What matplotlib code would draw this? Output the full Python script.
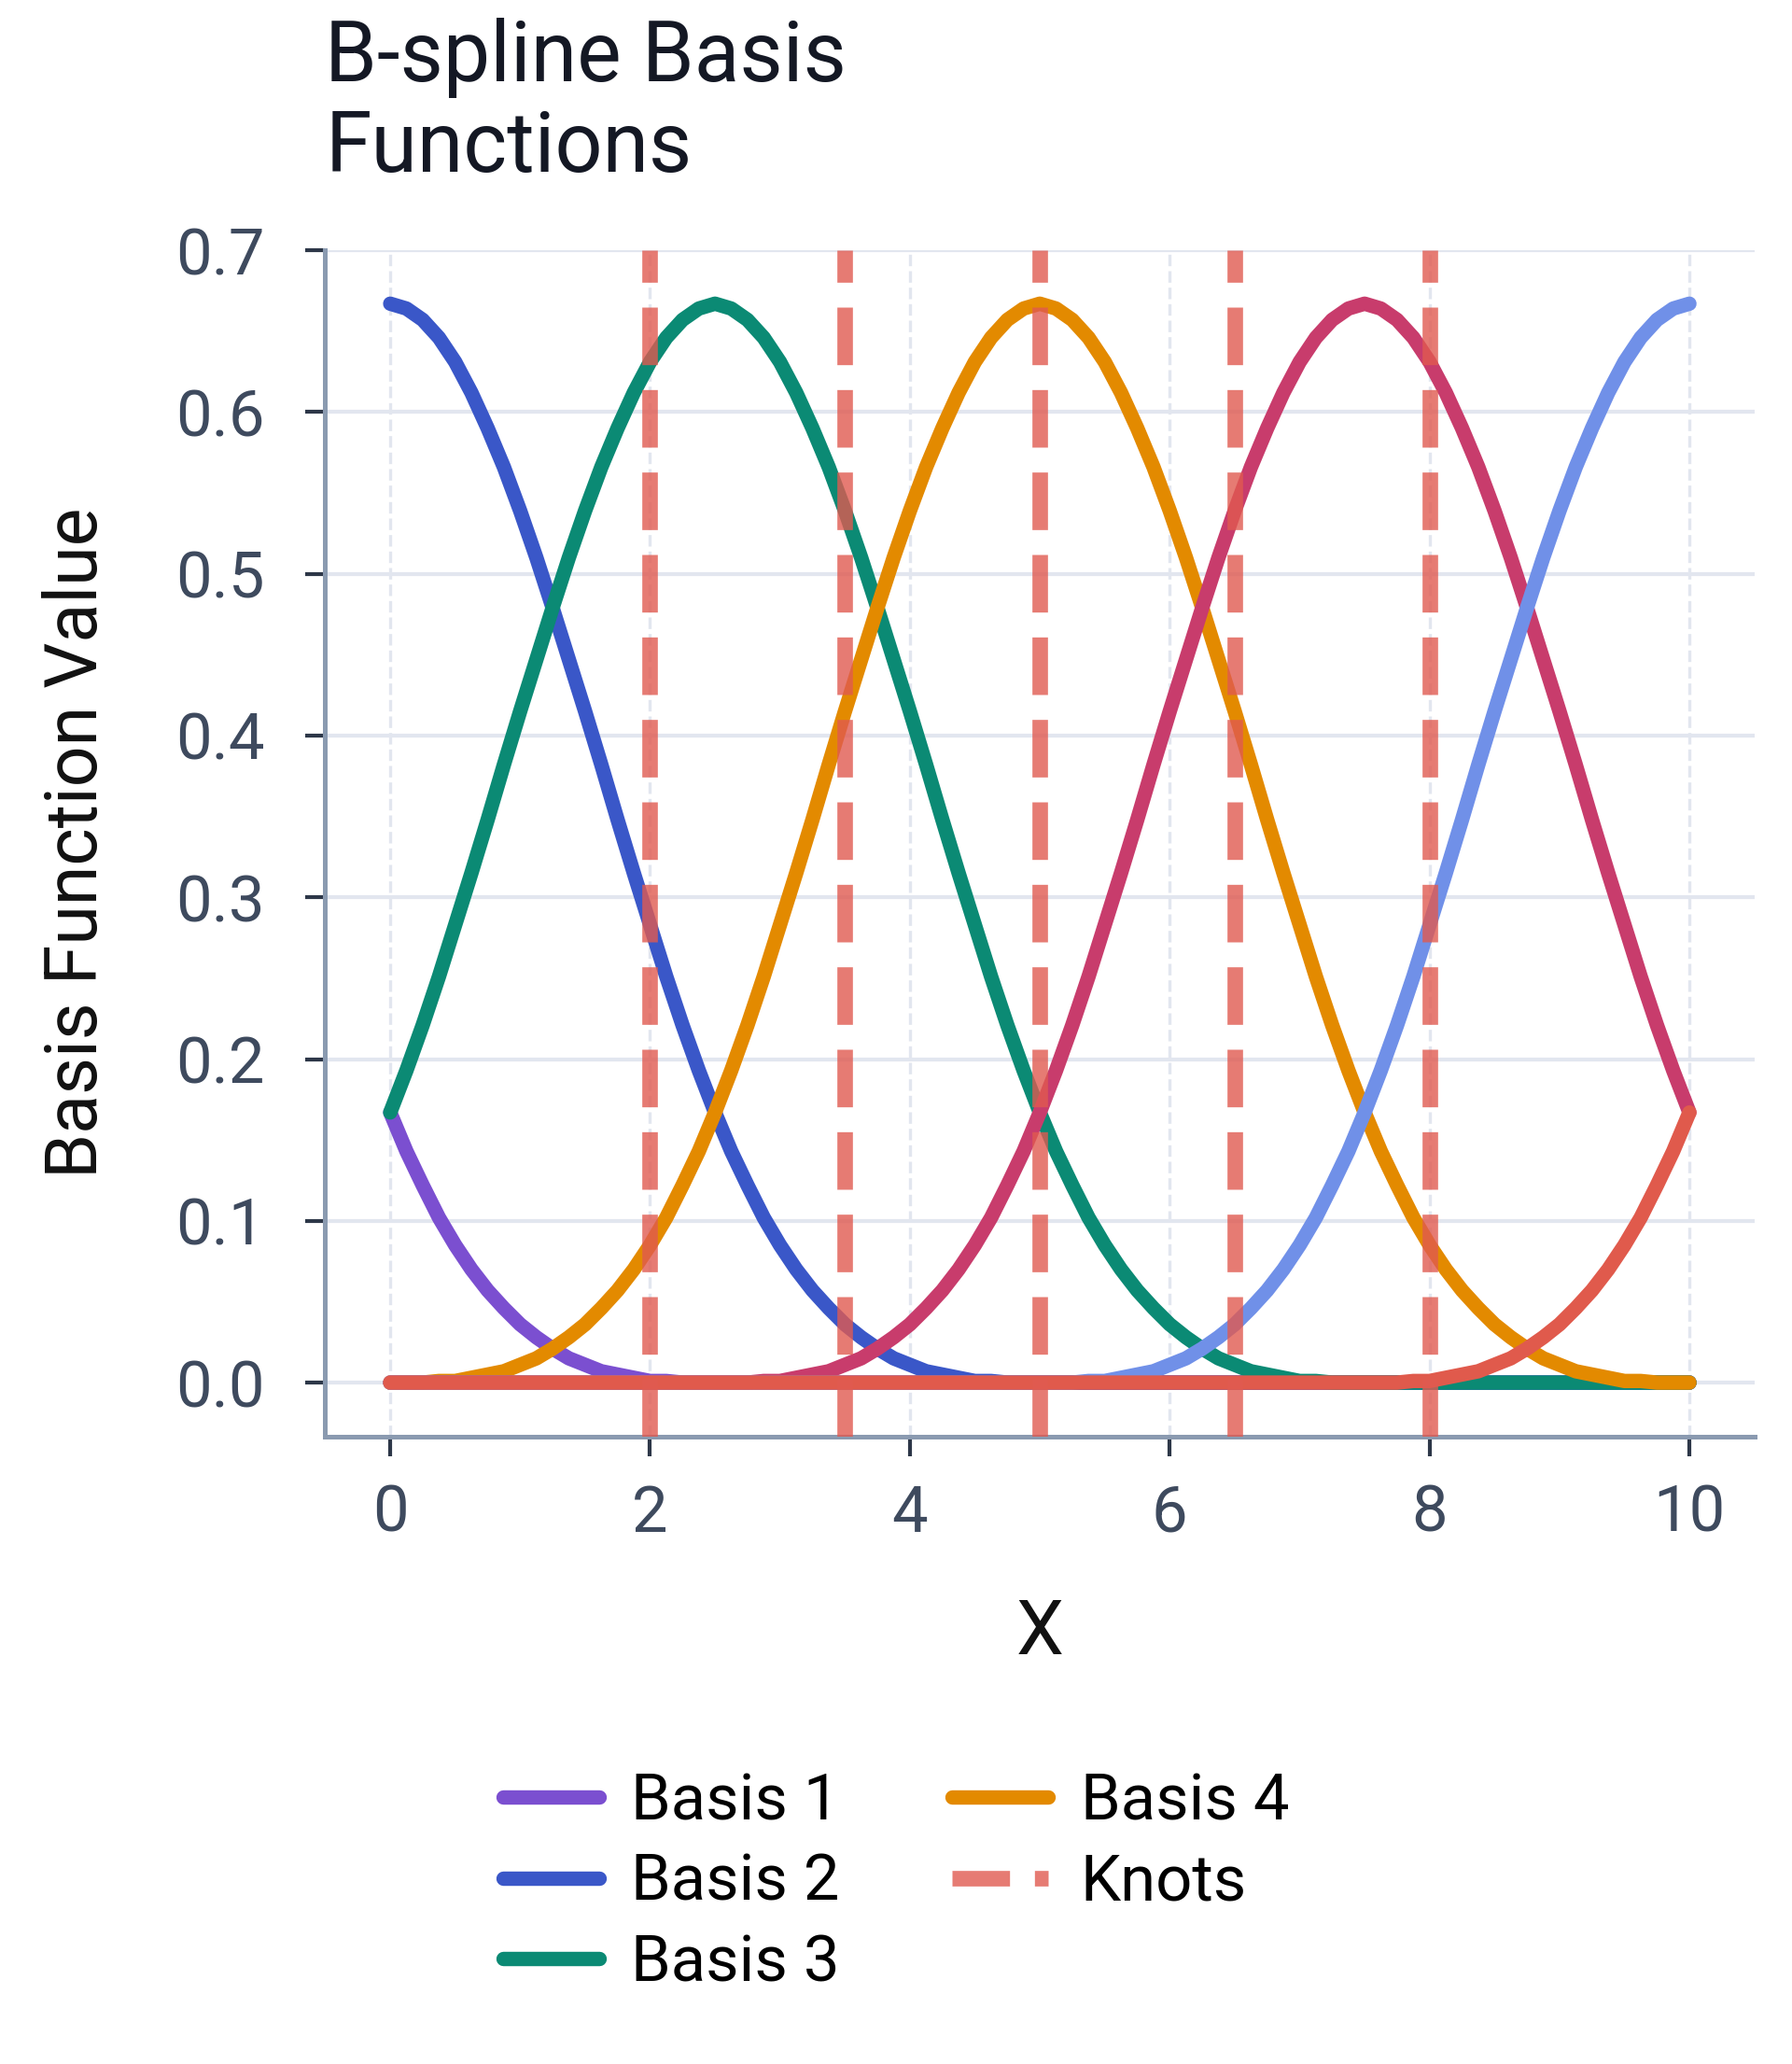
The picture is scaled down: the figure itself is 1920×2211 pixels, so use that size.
import numpy as np
from matplotlib import pyplot as plt


plt.switch_backend('agg')
plt.rcParams['font.family'] = ['Roboto', 'DejaVu Sans']

# sample positions along x (every 0.125)
x_vals = np.linspace(0, 10, 81)

basis_1 = [0.167, 0.143, 0.122, 0.102, 0.085, 0.070, 0.057, 0.046, 0.036, 0.028,
           0.021, 0.015, 0.011, 0.007, 0.005, 0.003, 0.001, 0.001, 0.0, 0.0,
           0.0, 0.0, 0.0, 0.0, 0.0, 0.0, 0.0, 0.0, 0.0, 0.0,
           0.0, 0.0, 0.0, 0.0, 0.0, 0.0, 0.0, 0.0, 0.0, 0.0,
           0.0, 0.0, 0.0, 0.0, 0.0, 0.0, 0.0, 0.0, 0.0, 0.0,
           0.0, 0.0, 0.0, 0.0, 0.0, 0.0, 0.0, 0.0, 0.0, 0.0,
           0.0, 0.0, 0.0, 0.0, 0.0, 0.0, 0.0, 0.0, 0.0, 0.0,
           0.0, 0.0, 0.0, 0.0, 0.0, 0.0, 0.0, 0.0, 0.0, 0.0,
           0.0]
basis_2 = [0.667, 0.664, 0.657, 0.646, 0.631, 0.612, 0.590, 0.566, 0.539, 0.510,
           0.479, 0.447, 0.415, 0.382, 0.348, 0.315, 0.283, 0.251, 0.221, 0.193,
           0.167, 0.143, 0.122, 0.102, 0.085, 0.070, 0.057, 0.046, 0.036, 0.028,
           0.021, 0.015, 0.011, 0.007, 0.005, 0.003, 0.001, 0.001, 0.0, 0.0,
           0.0, 0.0, 0.0, 0.0, 0.0, 0.0, 0.0, 0.0, 0.0, 0.0,
           0.0, 0.0, 0.0, 0.0, 0.0, 0.0, 0.0, 0.0, 0.0, 0.0,
           0.0, 0.0, 0.0, 0.0, 0.0, 0.0, 0.0, 0.0, 0.0, 0.0,
           0.0, 0.0, 0.0, 0.0, 0.0, 0.0, 0.0, 0.0, 0.0, 0.0,
           0.0]
basis_3 = [0.167, 0.193, 0.221, 0.251, 0.283, 0.315, 0.348, 0.382, 0.415, 0.447,
           0.479, 0.510, 0.539, 0.566, 0.590, 0.612, 0.631, 0.646, 0.657, 0.664,
           0.667, 0.664, 0.657, 0.646, 0.631, 0.612, 0.590, 0.566, 0.539, 0.510,
           0.479, 0.447, 0.415, 0.382, 0.348, 0.315, 0.283, 0.251, 0.221, 0.193,
           0.167, 0.143, 0.122, 0.102, 0.085, 0.070, 0.057, 0.046, 0.036, 0.028,
           0.021, 0.015, 0.011, 0.007, 0.005, 0.003, 0.001, 0.001, 0.0, 0.0,
           0.0, 0.0, 0.0, 0.0, 0.0, 0.0, 0.0, 0.0, 0.0, 0.0,
           0.0, 0.0, 0.0, 0.0, 0.0, 0.0, 0.0, 0.0, 0.0, 0.0,
           0.0]
basis_4 = [0.0, 0.0, 0.0, 0.001, 0.001, 0.003, 0.005, 0.007, 0.011, 0.015,
           0.021, 0.028, 0.036, 0.046, 0.057, 0.070, 0.085, 0.102, 0.122, 0.143,
           0.167, 0.193, 0.221, 0.251, 0.283, 0.315, 0.348, 0.382, 0.415, 0.447,
           0.479, 0.510, 0.539, 0.566, 0.590, 0.612, 0.631, 0.646, 0.657, 0.664,
           0.667, 0.664, 0.657, 0.646, 0.631, 0.612, 0.590, 0.566, 0.539, 0.510,
           0.479, 0.447, 0.415, 0.382, 0.348, 0.315, 0.283, 0.251, 0.221, 0.193,
           0.167, 0.143, 0.122, 0.102, 0.085, 0.070, 0.057, 0.046, 0.036, 0.028,
           0.021, 0.015, 0.011, 0.007, 0.005, 0.003, 0.001, 0.001, 0.0, 0.0,
           0.0]
basis_5 = [0.0, 0.0, 0.0, 0.0, 0.0, 0.0, 0.0, 0.0, 0.0, 0.0,
           0.0, 0.0, 0.0, 0.0, 0.0, 0.0, 0.0, 0.0, 0.0, 0.0,
           0.0, 0.0, 0.0, 0.001, 0.001, 0.003, 0.005, 0.007, 0.011, 0.015,
           0.021, 0.028, 0.036, 0.046, 0.057, 0.070, 0.085, 0.102, 0.122, 0.143,
           0.167, 0.193, 0.221, 0.251, 0.283, 0.315, 0.348, 0.382, 0.415, 0.447,
           0.479, 0.510, 0.539, 0.566, 0.590, 0.612, 0.631, 0.646, 0.657, 0.664,
           0.667, 0.664, 0.657, 0.646, 0.631, 0.612, 0.590, 0.566, 0.539, 0.510,
           0.479, 0.447, 0.415, 0.382, 0.348, 0.315, 0.283, 0.251, 0.221, 0.193,
           0.167]
basis_6 = [0.0, 0.0, 0.0, 0.0, 0.0, 0.0, 0.0, 0.0, 0.0, 0.0,
           0.0, 0.0, 0.0, 0.0, 0.0, 0.0, 0.0, 0.0, 0.0, 0.0,
           0.0, 0.0, 0.0, 0.0, 0.0, 0.0, 0.0, 0.0, 0.0, 0.0,
           0.0, 0.0, 0.0, 0.0, 0.0, 0.0, 0.0, 0.0, 0.0, 0.0,
           0.0, 0.0, 0.0, 0.001, 0.001, 0.003, 0.005, 0.007, 0.011, 0.015,
           0.021, 0.028, 0.036, 0.046, 0.057, 0.070, 0.085, 0.102, 0.122, 0.143,
           0.167, 0.193, 0.221, 0.251, 0.283, 0.315, 0.348, 0.382, 0.415, 0.447,
           0.479, 0.510, 0.539, 0.566, 0.590, 0.612, 0.631, 0.646, 0.657, 0.664,
           0.667]
basis_7 = [0.0, 0.0, 0.0, 0.0, 0.0, 0.0, 0.0, 0.0, 0.0, 0.0,
           0.0, 0.0, 0.0, 0.0, 0.0, 0.0, 0.0, 0.0, 0.0, 0.0,
           0.0, 0.0, 0.0, 0.0, 0.0, 0.0, 0.0, 0.0, 0.0, 0.0,
           0.0, 0.0, 0.0, 0.0, 0.0, 0.0, 0.0, 0.0, 0.0, 0.0,
           0.0, 0.0, 0.0, 0.0, 0.0, 0.0, 0.0, 0.0, 0.0, 0.0,
           0.0, 0.0, 0.0, 0.0, 0.0, 0.0, 0.0, 0.0, 0.0, 0.0,
           0.0, 0.0, 0.0, 0.001, 0.001, 0.003, 0.005, 0.007, 0.011, 0.015,
           0.021, 0.028, 0.036, 0.046, 0.057, 0.070, 0.085, 0.102, 0.122, 0.143,
           0.167]

basis_series = [basis_1, basis_2, basis_3, basis_4, basis_5, basis_6, basis_7]
basis_labels = ['Basis 1', 'Basis 2', 'Basis 3', 'Basis 4', None, None, None]
basis_colors = ['#7b4fd0', '#3a57c8', '#0b8a74', '#e38a00',
                '#c83c6c', '#7090e8', '#e05a4c']

knots = [2.0, 3.5, 5.0, 6.5, 8.0]

fig = plt.figure(figsize=(6.4, 7.37), dpi=300)
ax = fig.add_axes([0.1815, 0.304, 0.7975, 0.575])

for values, label, color in zip(basis_series, basis_labels, basis_colors):
    ax.plot(x_vals, values, color=color, lw=3.7, solid_capstyle='round',
            label=label if label else '_nolegend_', zorder=3)

for i, k in enumerate(knots):
    ax.axvline(k, color='#e05a50', alpha=0.8, lw=4, ls='--', zorder=4,
               label='Knots' if i == 0 else '_nolegend_')

ax.set_xticks([0, 2, 4, 6, 8, 10])
ax.set_yticks([0.0, 0.1, 0.2, 0.3, 0.4, 0.5, 0.6, 0.7])
ax.set_yticklabels(['0.0', '0.1', '0.2', '0.3', '0.4', '0.5', '0.6', '0.7'])

ax.set_axisbelow(True)
ax.yaxis.grid(True, color='#e2e6ef', lw=1.0, ls='-')
ax.xaxis.grid(True, color='#e2e6ef', lw=0.8, ls='--')

for side in ['top', 'right']:
    ax.spines[side].set_visible(False)
for side in ['left', 'bottom']:
    ax.spines[side].set_color('#8a9ab0')
    ax.spines[side].set_linewidth(1.2)

ax.tick_params(axis='both', length=5, width=1.0, color='#2d3748',
               labelsize=16.5, labelcolor='#3e4a5e')
ax.tick_params(axis='x', pad=7)
ax.tick_params(axis='y', pad=10.5)

ax.set_xlabel('X', fontsize=19.5, labelpad=13.5, color='#111111')
ax.set_ylabel('Basis Function Value', fontsize=18.5, labelpad=16.5, color='#111111')
ax.set_title('B-spline Basis\nFunctions', loc='left', fontsize=21.5,
             color='#141824', pad=20, linespacing=1.16)

handles, labels = ax.get_legend_handles_labels()
fig.legend(handles, labels, loc='upper center', bbox_to_anchor=(0.5, 0.17),
           ncol=2, frameon=False, fontsize=16.5, handlelength=1.5,
           handletextpad=0.5, columnspacing=1.75, labelspacing=0.3)

fig.savefig('out.png', dpi=300)
